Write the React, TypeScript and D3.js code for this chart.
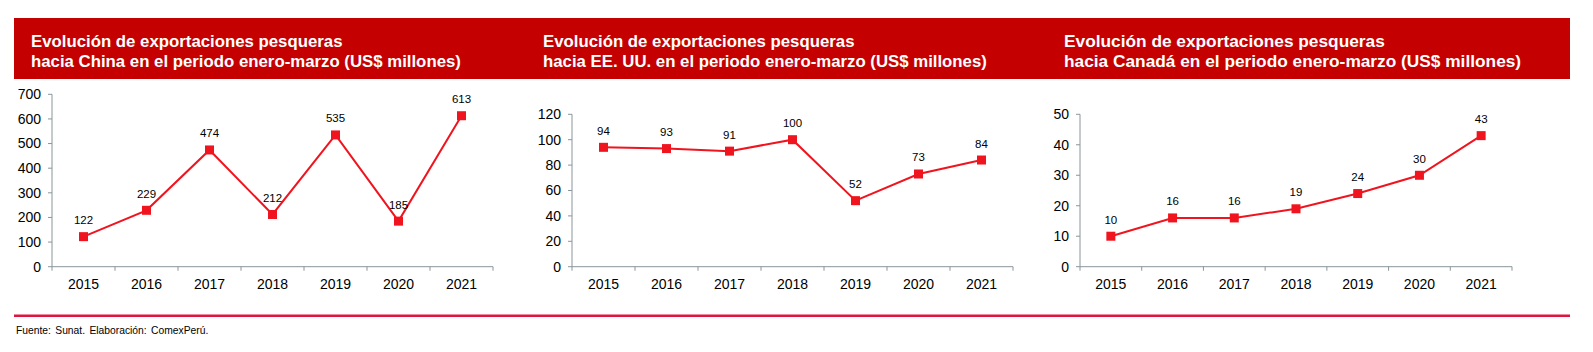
import React from "react";
import * as d3 from "d3";

const years = ["2015", "2016", "2017", "2018", "2019", "2020", "2021"];
const chinaValues = [122, 229, 474, 212, 535, 185, 613];
const usaValues = [94, 93, 91, 100, 52, 73, 84];
const canadaValues = [10, 16, 16, 19, 24, 30, 43];
const chinaTicks = [0, 100, 200, 300, 400, 500, 600, 700];
const usaTicks = [0, 20, 40, 60, 80, 100, 120];
const canadaTicks = [0, 10, 20, 30, 40, 50];

const titles = [
  ["Evolución de exportaciones pesqueras", "hacia China en el periodo enero-marzo (US$ millones)"],
  ["Evolución de exportaciones pesqueras", "hacia EE. UU. en el periodo enero-marzo (US$ millones)"],
  ["Evolución de exportaciones pesqueras", "hacia Canadá en el periodo enero-marzo (US$ millones)"],
];

const W = 1593;
const H = 352;
const font = "'Liberation Sans', Arial, sans-serif";
const axisColor = "#8a9599";
const red = "#f0141e";

const panels = [
  { values: chinaValues, ticks: chinaTicks, x0: 52, x1: 493, titleX: 31, titleSize: 16.8 },
  { values: usaValues, ticks: usaTicks, x0: 572, x1: 1013, titleX: 543, titleSize: 16.8 },
  { values: canadaValues, ticks: canadaTicks, x0: 1080, x1: 1512, titleX: 1064, titleSize: 17.3 },
];

const yBottom = 266.7;
const yTop = 94.3;
const yTopSmall = 114.3;

function Panel({ p, i }: { p: any; i: number }) {
  const max = p.ticks[p.ticks.length - 1];
  const top = i === 0 ? yTop : yTopSmall;
  const x = d3.scaleBand().domain(years).range([p.x0, p.x1]);
  const y = d3.scaleLinear().domain([0, max]).range([yBottom, top]);
  const line = d3
    .line<number>()
    .x((_, j) => (x(years[j]) as number) + x.bandwidth() / 2)
    .y((d) => y(d));
  const bounds = [...years.map((yr) => x(yr) as number), p.x1];
  return (
    <g>
      <text x={p.titleX} y={46.5} fill="#fff" fontFamily={font} fontWeight="bold" fontSize={p.titleSize}>
        {titles[i][0]}
      </text>
      <text x={p.titleX} y={66.5} fill="#fff" fontFamily={font} fontWeight="bold" fontSize={p.titleSize}>
        {titles[i][1]}
      </text>
      {/* y axis */}
      <line x1={p.x0} x2={p.x0} y1={top} y2={yBottom} stroke={axisColor} strokeWidth={1} />
      {p.ticks.map((t: number) => (
        <g key={t}>
          <line x1={p.x0 - 4} x2={p.x0} y1={y(t)} y2={y(t)} stroke={axisColor} strokeWidth={1} />
          <text
            x={p.x0 - 11}
            y={y(t)}
            dy="0.35em"
            textAnchor="end"
            fontFamily={font}
            fontSize={14}
            fill="#000"
          >
            {t}
          </text>
        </g>
      ))}
      {/* x axis */}
      <line x1={p.x0} x2={p.x1} y1={yBottom} y2={yBottom} stroke={axisColor} strokeWidth={1} />
      {bounds.map((b, k) => (
        <line key={k} x1={b} x2={b} y1={yBottom} y2={yBottom + 4} stroke={axisColor} strokeWidth={1} />
      ))}
      {years.map((yr) => (
        <text
          key={yr}
          x={(x(yr) as number) + x.bandwidth() / 2}
          y={288.5}
          textAnchor="middle"
          fontFamily={font}
          fontSize={14}
          fill="#000"
        >
          {yr}
        </text>
      ))}
      <path d={line(p.values) || ""} fill="none" stroke={red} strokeWidth={2} />
      {p.values.map((v: number, j: number) => {
        const cx = (x(years[j]) as number) + x.bandwidth() / 2;
        return (
          <g key={j}>
            <rect x={cx - 4.5} y={y(v) - 4.5} width={9} height={9} fill={red} />
            <text
              x={cx}
              y={y(v) - 12.5}
              textAnchor="middle"
              fontFamily={font}
              fontSize={11.5}
              fill="#000"
            >
              {v}
            </text>
          </g>
        );
      })}
    </g>
  );
}

export default function App() {
  return (
    <svg
      width={W}
      height={H}
      style={{ position: "absolute", left: 0, top: 0, background: "#fff" }}
    >
      <rect x={14} y={18} width={1556} height={61} fill="#c40000" />
      {panels.map((p, i) => (
        <Panel key={i} p={p} i={i} />
      ))}
      <rect x={14} y={314.5} width={1556} height={2.5} fill="#e0143c" />
      <text x={16} y={334} fontFamily={font} fontSize={10.3} wordSpacing={1.5} fill="#000">
        Fuente: Sunat. Elaboración: ComexPerú.
      </text>
    </svg>
  );
}
